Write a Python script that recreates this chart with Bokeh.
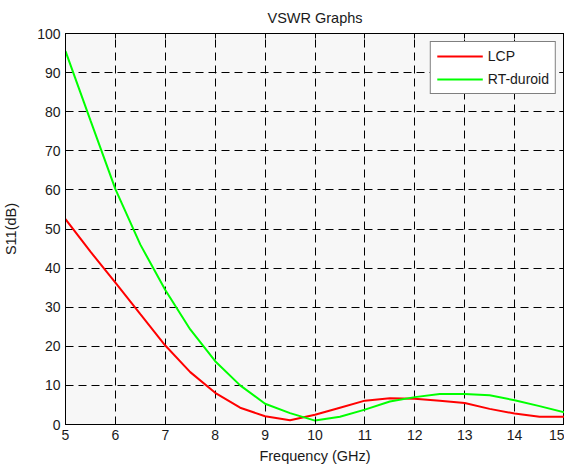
from bokeh.plotting import figure
from bokeh.models import Range1d, FixedTicker, LinearAxis, Legend, LegendItem
from bokeh.embed import file_html
from bokeh.resources import INLINE

# Data
freq = [5, 5.5, 6, 6.5, 7, 7.5, 8, 8.5, 9, 9.5, 10, 10.5, 11, 11.5, 12, 12.5, 13, 13.5, 14, 14.5, 15]
lcp = [52.5, 44.2, 36.3, 28.2, 20.2, 13.4, 8.1, 4.3, 2.1, 1.1, 2.5, 4.3, 6.1, 6.7, 6.6, 6.1, 5.5, 4.0, 2.8, 2.0, 2.0]
rt_duroid = [95.5, 77.8, 60.2, 46.0, 34.4, 24.3, 16.2, 10.0, 5.3, 2.9, 1.0, 2.0, 3.8, 5.9, 7.0, 7.8, 7.8, 7.5, 6.2, 4.7, 3.1]
x_ticks = [5, 6, 7, 8, 9, 10, 11, 12, 13, 14, 15]
y_ticks = [0, 10, 20, 30, 40, 50, 60, 70, 80, 90, 100]

FONT = "Liberation Sans"
FS = "14px"
FS_L = "14.5px"

p = figure(output_backend="svg", toolbar_location=None,
           frame_width=499, frame_height=391,
           min_border_left=0, min_border_top=0, min_border_right=0, min_border_bottom=0,
           x_range=Range1d(5, 15), y_range=Range1d(0, 100),
           background_fill_color="#f7f7f7", border_fill_color="white",
           title="VSWR Graphs")
p.title.align = "center"
p.title.text_font = FONT
p.title.text_font_size = FS_L
p.title.text_font_style = "normal"
p.title.text_color = "#1a1a1a"
p.title.offset = 0
p.title.standoff = 15

p.outline_line_color = "black"
p.outline_line_width = 1

for ax, ticks in ((p.xaxis[0], x_ticks), (p.yaxis[0], y_ticks)):
    ax.ticker = FixedTicker(ticks=ticks)
    ax.major_tick_in = 5
    ax.major_tick_out = 0
    ax.minor_tick_line_color = None
    ax.axis_line_color = "black"
    ax.major_tick_line_color = "black"
    ax.major_label_text_font = FONT
    ax.major_label_text_font_size = FS
    ax.major_label_text_color = "#1a1a1a"
    ax.axis_label_text_font = FONT
    ax.axis_label_text_font_size = FS_L
    ax.axis_label_text_font_style = "normal"
    ax.axis_label_text_color = "#1a1a1a"

p.xaxis[0].axis_label = "Frequency (GHz)"
p.yaxis[0].axis_label = "S11(dB)"
p.xaxis[0].major_label_standoff = 5
p.xaxis[0].axis_label_standoff = 5
p.yaxis[0].major_label_standoff = 5
p.yaxis[0].axis_label_standoff = 15

for loc, ticks in (("right", y_ticks), ("above", x_ticks)):
    a = LinearAxis(ticker=FixedTicker(ticks=ticks), major_tick_in=5, major_tick_out=0,
                   minor_tick_line_color=None, major_label_text_font_size="0px",
                   major_label_text_color=None,
                   major_label_standoff=0, axis_line_color="black", major_tick_line_color="black")
    p.add_layout(a, loc)

for g in (p.xgrid[0], p.ygrid[0]):
    g.grid_line_color = "black"
    g.grid_line_dash = "8 5"
    g.grid_line_width = 1
p.xgrid[0].ticker = FixedTicker(ticks=x_ticks)
p.ygrid[0].ticker = FixedTicker(ticks=y_ticks)

r1 = p.line(freq, lcp, line_color="#ff0000", line_width=2)
r2 = p.line(freq, rt_duroid, line_color="#00ff00", line_width=2)

legend = Legend(items=[LegendItem(label="LCP", renderers=[r1]),
                       LegendItem(label="RT-duroid", renderers=[r2])],
                location="top_right", margin=8,
                padding=6, spacing=7, label_height=14, glyph_height=14, glyph_width=46,
                label_standoff=5, border_line_color="black", border_line_width=1,
                background_fill_color="white", background_fill_alpha=1,
                label_text_font=FONT, label_text_font_size=FS, label_text_color="#1a1a1a")
p.add_layout(legend, "center")

open("out.html", "w").write(file_html(p, INLINE))
